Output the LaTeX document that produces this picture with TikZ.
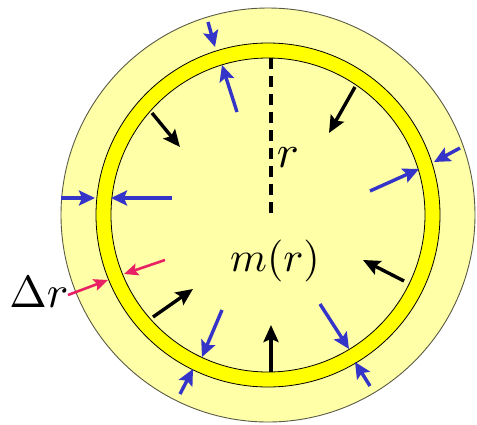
\documentclass[tikz,border=0pt]{standalone}
\usepackage{graphicx}
\usetikzlibrary{arrows.meta}
\definecolor{pale}{RGB}{255,255,168}
\definecolor{ringyellow}{RGB}{255,255,0}
\definecolor{arrowblue}{RGB}{52,52,200}
\definecolor{arrowpink}{RGB}{232,32,100}
\definecolor{rimgray}{RGB}{90,90,70}
\newcommand{\biglabel}[2]{\scalebox{#1}{$#2$}}
\begin{document}
\begin{tikzpicture}[x=1pt,y=-1pt,
  bluearrow/.style={draw=arrowblue, line width=3.4pt, -{Stealth[length=16pt,width=15pt,inset=3pt]}},
  blackarrow/.style={draw=black, line width=3.4pt, -{Stealth[length=17pt,width=15pt,inset=3pt]}},
  pinkarrow/.style={draw=arrowpink, line width=2.6pt, -{Stealth[length=14pt,width=12pt,inset=2.5pt]}},
  labeltext/.style={inner sep=0pt, anchor=base},
  ringedge/.style={draw=black, line width=0.8pt}]
\useasboundingbox (0,0) rectangle (477,424);
\fill[white] (0,0) rectangle (477,424);
\coordinate (c) at (268,215);
% outer pale disc
\filldraw[fill=pale, draw=rimgray, line width=0.9pt] (c) circle[radius=207pt];
% yellow ring
\fill[ringyellow, even odd rule] (c) circle[radius=172pt] (c) circle[radius=157pt];
\draw[ringedge] (c) circle[radius=172pt];
\draw[ringedge] (c) circle[radius=157pt];
% radius line
\coordinate (rtop) at (271,58);
\coordinate (rbot) at (271,217);
\draw[line width=3.2pt, dash pattern=on 11pt off 7pt] (rtop) -- (rbot);
% blue arrows
\coordinate (b1os) at (208,22);  \coordinate (b1oe) at (215,47);
\coordinate (b1is) at (237,112); \coordinate (b1ie) at (222,65);
\coordinate (b2os) at (61,198);  \coordinate (b2oe) at (95,198);
\coordinate (b2is) at (172,198); \coordinate (b2ie) at (111,198);
\coordinate (b3os) at (460,148); \coordinate (b3oe) at (434,162);
\coordinate (b3is) at (370,191); \coordinate (b3ie) at (419,169);
\coordinate (b4is) at (222,310); \coordinate (b4ie) at (202,357);
\coordinate (b4os) at (180,394); \coordinate (b4oe) at (193,369);
\coordinate (b5is) at (320,304); \coordinate (b5ie) at (349,349);
\coordinate (b5os) at (370,386); \coordinate (b5oe) at (355,362);
\draw[bluearrow] (b1os) -- (b1oe);
\draw[bluearrow] (b1is) -- (b1ie);
\draw[bluearrow] (b2os) -- (b2oe);
\draw[bluearrow] (b2is) -- (b2ie);
\draw[bluearrow] (b3os) -- (b3oe);
\draw[bluearrow] (b3is) -- (b3ie);
\draw[bluearrow] (b4is) -- (b4ie);
\draw[bluearrow] (b4os) -- (b4oe);
\draw[bluearrow] (b5is) -- (b5ie);
\draw[bluearrow] (b5os) -- (b5oe);
% pink arrows
\coordinate (p1s) at (68,295);  \coordinate (p1e) at (108,280);
\coordinate (p2s) at (165,260); \coordinate (p2e) at (124,274);
\draw[pinkarrow] (p1s) -- (p1e);
\draw[pinkarrow] (p2s) -- (p2e);
% black arrows
\coordinate (k1s) at (152,113); \coordinate (k1e) at (180,147);
\coordinate (k2s) at (355,87);  \coordinate (k2e) at (329,133);
\coordinate (k3s) at (404,281); \coordinate (k3e) at (363,260);
\coordinate (k4s) at (271,372); \coordinate (k4e) at (271,325);
\coordinate (k5s) at (153,317); \coordinate (k5e) at (193,289);
\draw[blackarrow] (k1s) -- (k1e);
\draw[blackarrow] (k2s) -- (k2e);
\draw[blackarrow] (k3s) -- (k3e);
\draw[blackarrow] (k4s) -- (k4e);
\draw[blackarrow] (k5s) -- (k5e);
% labels
\node[labeltext] (rlab) at (288,167) {\biglabel{4.6}{r}};
\node[labeltext] (mlab) at (275,271) {\biglabel{4.2}{m(r)}};
\node[labeltext] (dlab) at (39,307) {\biglabel{4.5}{\Delta r}};
\end{tikzpicture}
\end{document}
